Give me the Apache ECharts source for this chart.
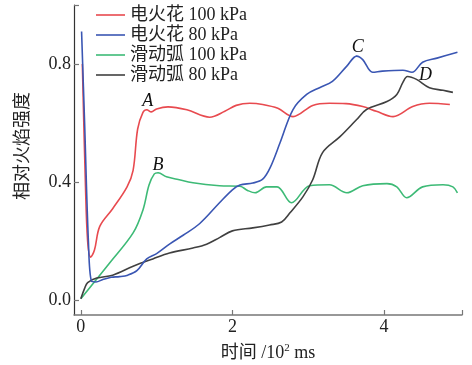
<!DOCTYPE html>
<html>
<head>
<meta charset="utf-8">
<script src="https://cdn.jsdelivr.net/npm/echarts@6/dist/echarts.min.js"></script>
<style>
  html, body { margin: 0; padding: 0; background: #fff; }
  #chart { width: 472px; height: 365px; }
</style>
</head>
<body>
<div id="chart"></div>
<script>
// Relative flame intensity over time (x in 10^2 ms)
const seriesNames = ['电火花 100 kPa', '电火花 80 kPa', '滑动弧 100 kPa', '滑动弧 80 kPa'];
const seriesColors = ['#e84a4f', '#3a56b3', '#3dba76', '#404040'];

const spark100 = [
  [0.02, 0.80], [0.06, 0.40], [0.09, 0.20], [0.13, 0.146], [0.18, 0.17], [0.25, 0.25],
  [0.42, 0.31], [0.61, 0.384], [0.69, 0.44], [0.75, 0.58], [0.82, 0.636], [0.87, 0.645],
  [0.93, 0.638], [1.0, 0.648], [1.15, 0.655], [1.4, 0.645], [1.7, 0.62], [1.9, 0.64],
  [2.05, 0.66], [2.23, 0.667], [2.4, 0.663], [2.6, 0.65], [2.8, 0.622], [3.06, 0.66],
  [3.28, 0.667], [3.5, 0.666], [3.72, 0.656], [3.9, 0.64], [4.12, 0.622], [4.38, 0.656],
  [4.6, 0.667], [4.87, 0.663]
];
const spark80 = [
  [0.01, 0.91], [0.05, 0.60], [0.1, 0.20], [0.14, 0.065], [0.2, 0.062], [0.29, 0.07],
  [0.4, 0.078], [0.51, 0.08], [0.62, 0.085], [0.74, 0.10], [0.87, 0.14], [1.0, 0.158],
  [1.17, 0.19], [1.35, 0.22], [1.57, 0.26], [1.83, 0.33], [2.0, 0.374], [2.1, 0.39],
  [2.27, 0.397], [2.4, 0.41], [2.5, 0.45], [2.63, 0.534], [2.8, 0.646], [2.98, 0.697],
  [3.15, 0.72], [3.32, 0.741], [3.51, 0.793], [3.64, 0.827], [3.72, 0.815], [3.85, 0.772],
  [3.98, 0.776], [4.25, 0.779], [4.37, 0.772], [4.51, 0.806], [4.70, 0.82], [4.97, 0.84]
];
const arc100 = [
  [0.0, 0.005], [0.38, 0.126], [0.69, 0.228], [0.82, 0.306], [0.9, 0.39], [0.97, 0.428],
  [1.02, 0.432], [1.13, 0.418], [1.27, 0.41], [1.48, 0.398], [1.83, 0.388], [2.1, 0.386],
  [2.2, 0.372], [2.3, 0.364], [2.45, 0.384], [2.59, 0.384], [2.78, 0.33], [3.02, 0.388],
  [3.28, 0.391], [3.51, 0.364], [3.72, 0.388], [4.04, 0.395], [4.17, 0.384], [4.30, 0.347],
  [4.51, 0.384], [4.78, 0.391], [4.91, 0.384], [4.97, 0.364]
];
const arc80 = [
  [0.0, 0.005], [0.05, 0.04], [0.09, 0.06], [0.21, 0.075], [0.42, 0.085], [0.69, 0.115],
  [0.95, 0.14], [1.17, 0.16], [1.48, 0.177], [1.66, 0.19], [1.83, 0.212], [2.0, 0.235],
  [2.27, 0.245], [2.49, 0.255], [2.65, 0.265], [2.76, 0.296], [2.93, 0.35], [3.06, 0.408],
  [3.19, 0.5], [3.42, 0.554], [3.64, 0.612], [3.77, 0.646], [4.04, 0.673], [4.17, 0.697],
  [4.25, 0.738], [4.31, 0.758], [4.43, 0.748], [4.6, 0.72], [4.78, 0.711], [4.91, 0.704]
];
const seriesData = [spark100, spark80, arc100, arc80];

// Annotated peaks: [series index, x of the point, letter]
const peakMarks = [[0, 0.87, 'A'], [2, 1.02, 'B'], [1, 3.64, 'C'], [3, 4.31, 'D']];

const xTicks = [0, 2, 4];
const yTicks = [0, 0.4, 0.8];

const serif = "'Liberation Serif', 'Times New Roman', 'Noto Sans CJK SC', serif";
const labelPlacement = {
  A: { position: 'top', distance: 2, offset: [1, 3] },
  B: { position: 'top', distance: 2, offset: [0, 4] },
  C: { position: 'top', distance: 2, offset: [1, 3] },
  D: { position: 'right', distance: 11, offset: [0, -1] }
};

function buildData(idx) {
  return seriesData[idx].map(function (p) {
    const mark = peakMarks.find(function (m) { return m[0] === idx && m[1] === p[0]; });
    if (!mark) return { value: p };
    const place = labelPlacement[mark[2]];
    return {
      value: p,
      symbol: 'circle',
      symbolSize: 1,
      label: Object.assign({
        show: true,
        formatter: mark[2],
        fontFamily: serif,
        fontStyle: 'italic',
        fontSize: 18,
        color: '#111'
      }, place)
    };
  });
}

const chart = echarts.init(document.getElementById('chart'));
chart.setOption({
  animation: false,
  backgroundColor: '#fff',
  grid: { left: 74, right: 10, top: 5, bottom: 50, containLabel: false, outerBoundsMode: 'none' },
  legend: {
    orient: 'vertical',
    left: 96,
    top: 6,
    padding: 0,
    icon: 'rect',
    itemWidth: 29,
    itemHeight: 1.6,
    itemGap: 2,
    textStyle: { fontFamily: serif, fontSize: 18, color: '#222', lineHeight: 18 },
    data: seriesNames
  },
  xAxis: {
    type: 'value',
    min: -0.09,
    max: 5.03,
    name: '{a|时间 /10}{s|2}{a| ms}',
    nameLocation: 'middle',
    nameGap: 28,
    nameTextStyle: {
      rich: {
        a: { fontFamily: serif, fontSize: 18, color: '#222', lineHeight: 20 },
        s: { fontFamily: serif, fontSize: 11, color: '#222', verticalAlign: 'top', lineHeight: 20 }
      }
    },
    axisLine: { onZero: false, lineStyle: { color: '#777', width: 1.5 } },
    axisTick: { inside: true, length: 5, lineStyle: { color: '#777', width: 1.2 }, customValues: xTicks.concat([5.03]) },
    axisLabel: { customValues: xTicks, margin: 3, fontFamily: serif, fontSize: 18, color: '#222' },
    splitLine: { show: false }
  },
  yAxis: {
    type: 'value',
    min: -0.05,
    max: 1.0,
    axisLine: { onZero: false, lineStyle: { color: '#333', width: 1.2 } },
    axisTick: { inside: true, length: 5, lineStyle: { color: '#777', width: 1.2 }, customValues: yTicks.concat([1.0]) },
    axisLabel: {
      customValues: yTicks, margin: 3, fontFamily: serif, fontSize: 18, color: '#222',
      formatter: function (v) { return v.toFixed(1); }
    },
    splitLine: { show: false }
  },
  graphic: [{
    type: 'text',
    x: 21,
    y: 146,
    rotation: Math.PI / 2,
    style: {
      text: '相对火焰强度',
      font: "18px 'Noto Sans CJK SC', sans-serif",
      fill: '#222',
      align: 'center',
      verticalAlign: 'middle'
    }
  }],
  series: seriesNames.map(function (name, i) {
    return {
      name: name,
      type: 'line',
      data: buildData(i),
      symbol: 'none',
      smooth: 0.35,
      color: seriesColors[i],
      lineStyle: { color: seriesColors[i], width: 1.6 },
      emphasis: { disabled: true },
      z: i === 1 ? 3 : 2
    };
  })
});
</script>
</body>
</html>
